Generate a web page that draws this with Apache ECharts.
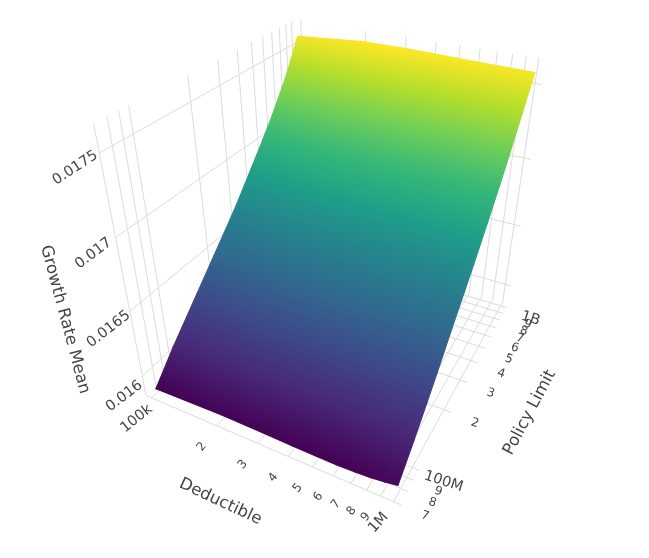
<!DOCTYPE html><html><head><meta charset="utf-8"><style>html,body{margin:0;background:#fff}#c{width:649px;height:558px}</style>
<script src="https://cdn.jsdelivr.net/npm/echarts@6/dist/echarts.min.js"></script></head><body><div id="c"></div>
<script>
const deductibles=[1e5,2e5,3e5,4e5,5e5,6e5,7e5,8e5,9e5,1e6];
const policyLimits=[75e6,100e6,125e6,150e6,200e6,250e6,300e6,400e6,500e6,600e6,700e6,800e6,900e6,1000e6];
const growthRateMean=[
[0.015875,0.015888,0.015883,0.015878,0.015875,0.015875,0.015880,0.015888,0.015900,0.015915],
[0.016055,0.016058,0.016054,0.016050,0.016048,0.016048,0.016049,0.016053,0.016058,0.016065],
[0.016181,0.016191,0.016190,0.016189,0.016188,0.016187,0.016188,0.016190,0.016192,0.016195],
[0.016284,0.016301,0.016303,0.016303,0.016303,0.016303,0.016304,0.016304,0.016304,0.016305],
[0.016446,0.016475,0.016479,0.016480,0.016480,0.016481,0.016482,0.016483,0.016484,0.016485],
[0.016572,0.016604,0.016610,0.016611,0.016612,0.016613,0.016615,0.016617,0.016618,0.016620],
[0.016677,0.016711,0.016717,0.016719,0.016721,0.016722,0.016724,0.016726,0.016728,0.016730],
[0.016860,0.016894,0.016901,0.016904,0.016905,0.016907,0.016909,0.016911,0.016913,0.016915],
[0.017005,0.017041,0.017049,0.017052,0.017053,0.017055,0.017058,0.017060,0.017062,0.017065],
[0.017130,0.017168,0.017176,0.017180,0.017182,0.017184,0.017187,0.017189,0.017192,0.017195],
[0.017245,0.017285,0.017294,0.017298,0.017300,0.017303,0.017306,0.017309,0.017312,0.017315],
[0.017350,0.017393,0.017401,0.017403,0.017404,0.017406,0.017408,0.017410,0.017413,0.017415],
[0.017460,0.017501,0.017505,0.017505,0.017503,0.017503,0.017503,0.017503,0.017504,0.017505],
[0.017565,0.017602,0.017602,0.017598,0.017594,0.017591,0.017589,0.017587,0.017586,0.017585]];
const xTickValues=[1e5,2e5,3e5,4e5,5e5,6e5,7e5,8e5,9e5,1e6];
const xTickLabels=['100k','2','3','4','5','6','7','8','9','1M'];
const yTickValues=[7e7,8e7,9e7,1e8,2e8,3e8,4e8,5e8,6e8,7e8,8e8,9e8,1e9];
const yTickLabels=['7','8','9','100M','2','3','4','5','6','7','8','9','1B'];
const zTickValues=[0.016,0.0165,0.017,0.0175];
const zTickLabels=['0.016','0.0165','0.017','0.0175'];
const viridis=['#440154','#482878','#3e4989','#31688e','#26828e','#1f9e89','#35b779','#6ece58','#b5de2b','#fde725'];

const CAM=[[182.119,208.558,-19.5354,174.322],[32.1364,-62.4772,-80.4726,353.616],[-0.138350,0.261078,-0.0574434,1]];
const BOX={x:[-0.027,1.027],y:[-0.155,1.03],z:[-0.32,3.32]};
const TXT='#444',GRID='#dcdcdc',FONT='"DejaVu Sans"';
const ux=d=>Math.log10(d)-5, uy=l=>Math.log10(l)-8, uz=z=>(z-0.016)/0.0005;
function proj(x,y,z){const c=CAM,w=c[2][0]*x+c[2][1]*y+c[2][2]*z+c[2][3];
  return[(c[0][0]*x+c[0][1]*y+c[0][2]*z+c[0][3])/w,(c[1][0]*x+c[1][1]*y+c[1][2]*z+c[1][3])/w];}

const segs=[];
xTickValues.map(ux).forEach(x=>{
  segs.push([x,BOX.y[0],BOX.z[0],x,BOX.y[1],BOX.z[0]]);
  segs.push([x,BOX.y[1],BOX.z[0],x,BOX.y[1],BOX.z[1]]);});
yTickValues.map(uy).forEach(y=>{
  segs.push([BOX.x[0],y,BOX.z[0],BOX.x[1],y,BOX.z[0]]);
  segs.push([BOX.x[0],y,BOX.z[0],BOX.x[0],y,BOX.z[1]]);});
zTickValues.map(uz).forEach(z=>{
  segs.push([BOX.x[0],BOX.y[0],z,BOX.x[0],BOX.y[1],z]);
  segs.push([BOX.x[0],BOX.y[1],z,BOX.x[1],BOX.y[1],z]);});

const flat=growthRateMean.flat(),cmin=Math.min(...flat),cmax=Math.max(...flat);
function hex(h){return[1,3,5].map(i=>parseInt(h.substr(i,2),16));}
function colorAt(z){let t=(z-cmin)/(cmax-cmin);t=Math.max(0,Math.min(1,t))*(viridis.length-1);
  const i=Math.min(Math.floor(t),viridis.length-2),f=t-i,a=hex(viridis[i]),b=hex(viridis[i+1]);
  return'rgb('+a.map((v,k)=>Math.round(v+(b[k]-v)*f)).join(',')+')';}
const tris=[];
for(let j=0;j<policyLimits.length-1;j++)for(let i=0;i<deductibles.length-1;i++){
  const v=(a,b)=>[ux(deductibles[a]),uy(policyLimits[b]),uz(growthRateMean[b][a]),growthRateMean[b][a]];
  const p00=v(i,j),p10=v(i+1,j),p01=v(i,j+1),p11=v(i+1,j+1);
  tris.push([...p00,...p10,...p11]);tris.push([...p00,...p11,...p01]);
}
function triGradient(pts,zs){
  const[a,b,c]=pts,[za,zb,zc]=zs;
  const d=(b[0]-a[0])*(c[1]-a[1])-(c[0]-a[0])*(b[1]-a[1]);
  const gx=((zb-za)*(c[1]-a[1])-(zc-za)*(b[1]-a[1]))/d,gy=((zc-za)*(b[0]-a[0])-(zb-za)*(c[0]-a[0]))/d;
  const zmin=Math.min(za,zb,zc),zmax=Math.max(za,zb,zc),g2=gx*gx+gy*gy;
  if(!isFinite(g2)||g2===0||zmax===zmin)return colorAt(za);
  const p=pts[zs.indexOf(zmin)],k=(zmax-zmin)/g2,stops=[];
  const STEPS=16;
  for(let s=0;s<=STEPS;s++)stops.push({offset:s/STEPS,color:colorAt(zmin+(zmax-zmin)*s/STEPS)});
  return new echarts.graphic.LinearGradient(p[0],p[1],p[0]+gx*k,p[1]+gy*k,stops,true);
}

const labels=[];
const add=(text,p,off,rot,size)=>labels.push({text,px:p[0]+off[0],py:p[1]+off[1],rot,size});
xTickValues.forEach((v,i)=>{const major=i===0||i===9;
  add(xTickLabels[i],proj(ux(v),BOX.y[0],BOX.z[0]),[-15,21],major?(i?48:39):50,major?14.5:12);});
yTickValues.forEach((v,i)=>{const major=i===3||i===12;
  add(yTickLabels[i],proj(BOX.x[1],uy(v),BOX.z[0]),[24,11],-18,major?14.5:12);});
const zRot=[37,38,37,33],zOff=[[-18,20],[-21,18],[-22,16],[-24,15]];
zTickValues.forEach((v,i)=>add(zTickLabels[i],proj(BOX.x[0],BOX.y[0],uz(v)),zOff[i],zRot[i],14.5));
add('Deductible',proj(0.5,BOX.y[0],BOX.z[0]),[-43,56],-25,16.5);
add('Policy Limit',proj(BOX.x[1],0.5,BOX.z[0]),[61,34],62,16.5);
add('Growth Rate Mean',proj(BOX.x[0],BOX.y[0],1.5),[-58,44],-75,16.5);

const chart=echarts.init(document.getElementById('c'),null,{renderer:'canvas',width:649,height:558});
chart.setOption({animation:false,backgroundColor:'#fff',
 grid:{left:0,right:0,top:0,bottom:0},
 xAxis:{type:'value',min:0,max:649,show:false},
 yAxis:{type:'value',min:0,max:558,inverse:true,show:false},
 series:[
 {type:'custom',coordinateSystem:'cartesian2d',silent:true,clip:false,z:1,data:segs,encode:{x:0,y:1},
  renderItem(p,api){const s=segs[p.dataIndex],a=api.coord(proj(s[0],s[1],s[2])),b=api.coord(proj(s[3],s[4],s[5]));
   return{type:'line',shape:{x1:a[0],y1:a[1],x2:b[0],y2:b[1]},style:{stroke:GRID,lineWidth:1,fill:null}};}},
 {type:'custom',coordinateSystem:'cartesian2d',silent:true,clip:false,z:2,data:tris,encode:{x:0,y:1},
  renderItem(p,api){const t=tris[p.dataIndex],pts=[0,4,8].map(k=>api.coord(proj(t[k],t[k+1],t[k+2]))),zs=[t[3],t[7],t[11]];
   const g=triGradient(pts,zs);
   return{type:'polygon',shape:{points:pts},style:{fill:g,stroke:g,lineWidth:1.2,lineJoin:'round'}};}},
 {type:'custom',coordinateSystem:'cartesian2d',silent:true,clip:false,z:3,data:labels.map(l=>[l.px,l.py]),encode:{x:0,y:1},
  renderItem(p,api){const l=labels[p.dataIndex],c=api.coord([l.px,l.py]);
   return{type:'text',x:c[0],y:c[1],rotation:l.rot*Math.PI/180,
    style:{text:l.text,fontSize:l.size,fontFamily:FONT,fill:TXT,align:'center',verticalAlign:'middle'}};}}
 ]});
</script></body></html>
